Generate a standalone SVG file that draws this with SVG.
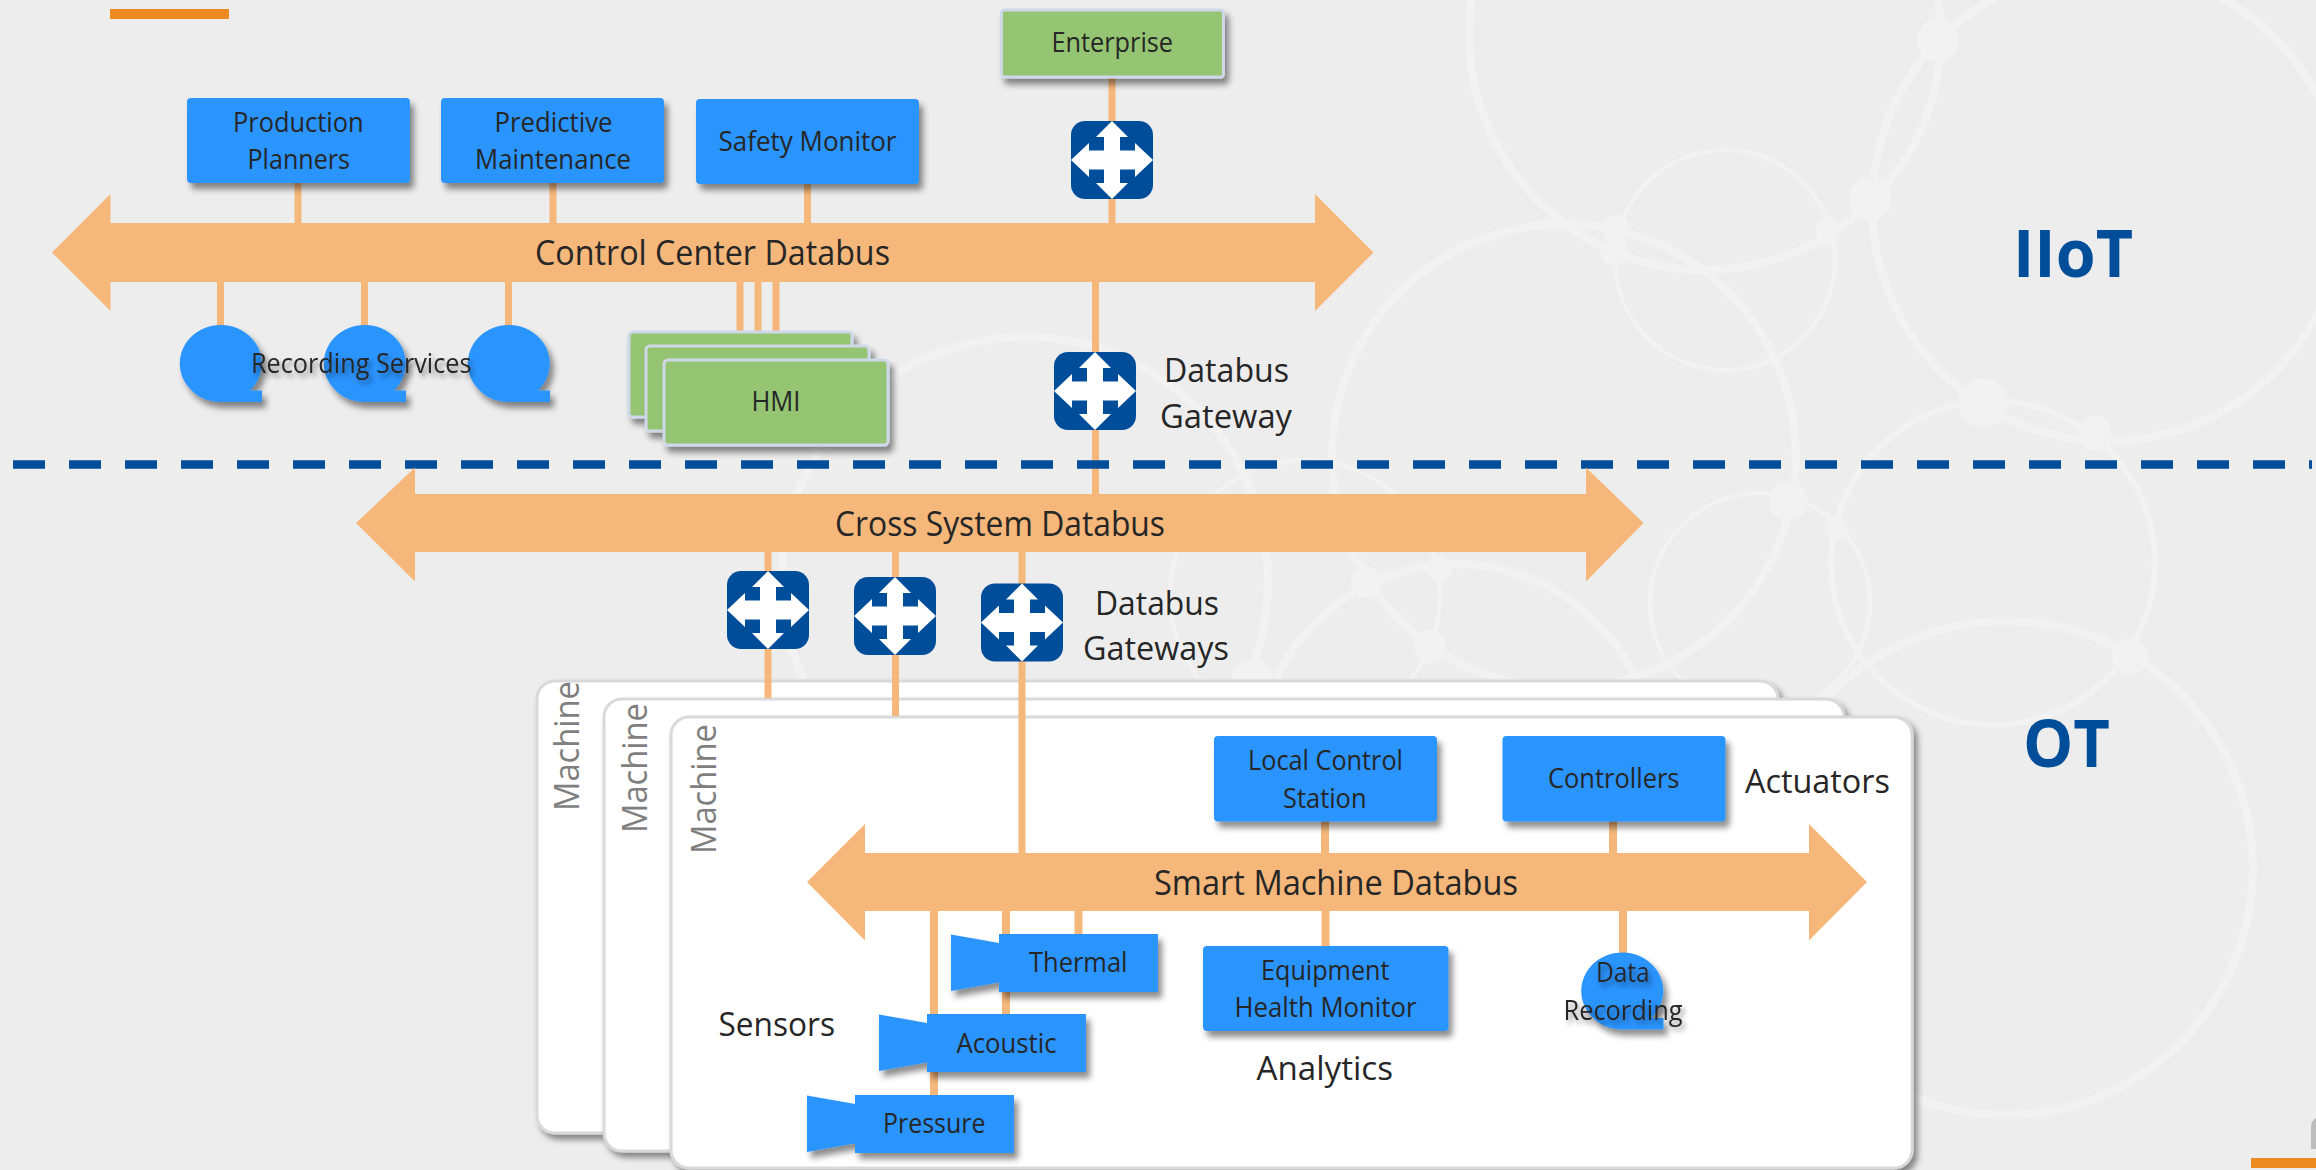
<svg xmlns="http://www.w3.org/2000/svg" xmlns:xlink="http://www.w3.org/1999/xlink" width="2316" height="1170" viewBox="0 0 2316 1170">
<style>
text{font-family:"Open Sans","Noto Sans","Liberation Sans",sans-serif;fill:#262626;font-size:27px}
.lg{font-size:32.5px}
.bl{font-size:34.5px}
.mach{font-size:35px;fill:#7f7f7f}
.hd{font-size:67px;font-weight:700;fill:#004e9a}
.box{fill:#2b94ff;filter:url(#sh)}
.grn{fill:#95c573;stroke:#cfd8e8;stroke-width:3;filter:url(#sh)}
.bus{fill:#f5b77a}
.pan{fill:#fff;stroke:#d9d9d9;stroke-width:3;filter:url(#shp)}
.bg circle{fill:none;stroke:#f2f2f2;stroke-width:8}
.bg .t{stroke-width:4}
.bg ellipse{fill:#f2f2f2}
.con line{stroke:#f5b77a;stroke-width:7}
.ts{filter:url(#tsh)}
</style>
<defs>
<filter id="sh" x="-20%" y="-20%" width="140%" height="140%"><feDropShadow dx="4" dy="6" stdDeviation="3" flood-color="#000" flood-opacity=".45"/></filter>
<filter id="shp" x="-5%" y="-5%" width="110%" height="110%"><feDropShadow dx="4" dy="5" stdDeviation="3" flood-color="#000" flood-opacity=".45"/></filter>
<filter id="tsh" x="-20%" y="-30%" width="140%" height="170%"><feDropShadow dx="3" dy="4" stdDeviation="2.5" flood-color="#000" flood-opacity=".4"/></filter>
<g id="gw">
<rect x="-41" y="-39" width="82" height="78" rx="14" fill="#004e9a"/>
<polygon fill="#fff" points="0,-39 16,-23 8,-23 8,-9.5 23,-9.5 23,-17 41,0 23,17 23,9.5 8,9.5 8,23 16,23 0,39 -16,23 -8,23 -8,9.5 -23,9.5 -23,17 -41,0 -23,-17 -23,-9.5 -8,-9.5 -8,-23 -16,-23"/>
</g>
<path id="tape" d="M0,38.5 A41,38.5 0 1 1 29,27 L41,27 L41,38.5 Z" fill="#2b94ff" filter="url(#sh)"/>
<g id="cam">
<polygon points="-48,0.5 0,9 0,48.5 -48,57" fill="#2b94ff"/>
<rect x="0" y="0" width="159" height="58" fill="#2b94ff"/>
</g>
</defs>

<rect width="2316" height="1170" fill="#ededed"/>

<g class="bg">
<circle cx="1705" cy="34" r="236"/>
<circle cx="2108" cy="205" r="236"/>
<circle class="t" cx="1725" cy="260" r="110"/>
<circle cx="1564" cy="456" r="232"/>
<circle cx="2006" cy="868" r="247"/>
<circle class="t" cx="1993" cy="563" r="162" style="stroke-width:6"/>
<circle class="t" cx="1760" cy="603" r="110"/>
<circle cx="1456" cy="762" r="198"/>
<circle cx="1025" cy="580" r="243"/>
<circle class="t" cx="1305" cy="595" r="135"/>
<ellipse cx="1938" cy="40" rx="21" ry="22"/>
<ellipse cx="1870" cy="199" rx="21" ry="22"/>
<ellipse cx="1617" cy="230" rx="14" ry="15"/>
<ellipse cx="1614" cy="251" rx="13" ry="15"/>
<ellipse cx="1828" cy="231" rx="12" ry="14"/>
<ellipse cx="1983" cy="403" rx="25" ry="25"/>
<ellipse cx="2095" cy="433" rx="16" ry="18"/>
<ellipse cx="1788" cy="501" rx="19" ry="20"/>
<ellipse cx="1836" cy="528" rx="12" ry="12"/>
<ellipse cx="1439" cy="568" rx="13" ry="13"/>
<ellipse cx="1366" cy="582" rx="15" ry="16"/>
<ellipse cx="1430" cy="647" rx="16" ry="17"/>
<ellipse cx="1252" cy="675" rx="20" ry="16"/>
<ellipse cx="2130" cy="657" rx="18" ry="18"/>
</g>

<rect id="accent-top" x="110" y="9" width="119" height="10" fill="#ee8a22"/>
<rect id="accent-bottom" x="2251" y="1158" width="65" height="10" fill="#ee8a22"/>
<path id="corner" d="M2316,1118 Q2311,1120 2311,1128 V1149 H2316 Z" fill="#bdbdbd"/>

<g id="machine-1"><rect class="pan" x="537" y="681" width="1241" height="452" rx="18"/><text class="mach" transform="translate(579,811) rotate(-90)" textLength="130" lengthAdjust="spacingAndGlyphs">Machine</text></g>
<g id="machine-2"><rect class="pan" x="604" y="699" width="1240" height="452" rx="18"/><text class="mach" transform="translate(647,833) rotate(-90)" textLength="130" lengthAdjust="spacingAndGlyphs">Machine</text></g>
<g id="machine-3"><rect class="pan" x="671" y="717" width="1241" height="451" rx="18"/><text class="mach" transform="translate(716,854) rotate(-90)" textLength="130" lengthAdjust="spacingAndGlyphs">Machine</text></g>

<g id="connectors" class="con">
<line x1="298" y1="183" x2="298" y2="224"/>
<line x1="553" y1="183" x2="553" y2="224"/>
<line x1="807.500" y1="184" x2="807.500" y2="224"/>
<line x1="1112" y1="77" x2="1112" y2="224"/>
<line x1="220.500" y1="282" x2="220.500" y2="326"/>
<line x1="364.500" y1="282" x2="364.500" y2="326"/>
<line x1="508.500" y1="282" x2="508.500" y2="326"/>
<line x1="740" y1="282" x2="740" y2="332"/>
<line x1="758" y1="282" x2="758" y2="346"/>
<line x1="776" y1="282" x2="776" y2="360"/>
<line x1="1095.500" y1="282" x2="1095.500" y2="495"/>
<line x1="768" y1="552" x2="768" y2="698"/>
<line x1="895.500" y1="552" x2="895.500" y2="716"/>
<line x1="1022" y1="552" x2="1022" y2="853"/>
<line x1="1325" y1="821" x2="1325" y2="853" style="stroke-width:8"/>
<line x1="1613" y1="821" x2="1613" y2="853" style="stroke-width:8"/>
<line x1="1325.500" y1="911" x2="1325.500" y2="946" style="stroke-width:8"/>
<line x1="1623" y1="911" x2="1623" y2="953" style="stroke-width:8"/>
<line x1="934" y1="911" x2="934" y2="1095" style="stroke-width:8"/>
<line x1="1006" y1="911" x2="1006" y2="1014" style="stroke-width:8"/>
<line x1="1078.500" y1="911" x2="1078.500" y2="934" style="stroke-width:8"/>
</g>

<path id="divider" d="M13,464.500 H2312" stroke="#004e9a" stroke-width="8.500" stroke-dasharray="32 24" fill="none"/>

<g id="bus-control"><polygon class="bus" points="52,252.500 110.500,194 110.500,223 1315,223 1315,194 1373.500,252.500 1315,311 1315,282 110.500,282 110.500,311"/><text class="bl" x="535" y="265" textLength="355" lengthAdjust="spacingAndGlyphs">Control Center Databus</text></g>
<g id="bus-cross"><polygon class="bus" points="356,523 415,467.500 415,494 1586,494 1586,467.500 1643.500,523 1586,581.500 1586,552 415,552 415,581.500"/><text class="bl" x="835" y="535.500" textLength="330" lengthAdjust="spacingAndGlyphs">Cross System Databus</text></g>
<g id="bus-smart"><polygon class="bus" points="807,882 865,824 865,853 1809,853 1809,824 1867,882 1809,940.500 1809,911 865,911 865,940.500"/><text class="bl" x="1154" y="895" textLength="364" lengthAdjust="spacingAndGlyphs">Smart Machine Databus</text></g>

<g id="production-planners"><rect class="box" x="187" y="98" width="223" height="85" rx="4"/><text x="233" y="132" textLength="130.500" lengthAdjust="spacingAndGlyphs">Production</text><text x="247.500" y="169" textLength="102.500" lengthAdjust="spacingAndGlyphs">Planners</text></g>
<g id="predictive-maintenance"><rect class="box" x="441" y="98" width="223" height="85" rx="4"/><text x="494.500" y="132" textLength="118" lengthAdjust="spacingAndGlyphs">Predictive</text><text x="475" y="169" textLength="156" lengthAdjust="spacingAndGlyphs">Maintenance</text></g>
<g id="safety-monitor"><rect class="box" x="696" y="99" width="223" height="85" rx="4"/><text x="718.500" y="150.500" textLength="178" lengthAdjust="spacingAndGlyphs">Safety Monitor</text></g>
<g id="enterprise"><rect class="grn" x="1001.500" y="10" width="222" height="67" rx="3"/><text x="1051.500" y="52" textLength="121.500" lengthAdjust="spacingAndGlyphs">Enterprise</text></g>

<g id="recording-services">
<use xlink:href="#tape" href="#tape" x="221" y="363.500"/>
<use xlink:href="#tape" href="#tape" x="365" y="363.500"/>
<use xlink:href="#tape" href="#tape" x="509" y="363.500"/>
<text class="ts" x="251" y="373" textLength="220.500" lengthAdjust="spacingAndGlyphs">Recording Services</text>
</g>

<g id="hmi">
<rect class="grn" x="629" y="332" width="223" height="85" rx="4"/>
<rect class="grn" x="646" y="346" width="223" height="85" rx="4"/>
<rect class="grn" x="664" y="360" width="224" height="85" rx="4"/>
<text x="751.500" y="411" textLength="49" lengthAdjust="spacingAndGlyphs">HMI</text>
</g>

<g id="gateway-enterprise"><use xlink:href="#gw" href="#gw" x="1112" y="160"/></g>
<g id="gateway-main"><use xlink:href="#gw" href="#gw" x="1095" y="391"/><text class="lg" x="1164" y="382" textLength="125" lengthAdjust="spacingAndGlyphs">Databus</text><text class="lg" x="1160" y="428" textLength="132" lengthAdjust="spacingAndGlyphs">Gateway</text></g>
<g id="gateway-1"><use xlink:href="#gw" href="#gw" x="768" y="610"/></g>
<g id="gateway-2"><use xlink:href="#gw" href="#gw" x="895" y="616"/></g>
<g id="gateway-3"><use xlink:href="#gw" href="#gw" x="1022" y="622.500"/><text class="lg" x="1095" y="615" textLength="124" lengthAdjust="spacingAndGlyphs">Databus</text><text class="lg" x="1083" y="660" textLength="146" lengthAdjust="spacingAndGlyphs">Gateways</text></g>

<g id="local-control-station"><rect class="box" x="1214" y="736" width="223" height="85.500" rx="4"/><text x="1248" y="770" textLength="155" lengthAdjust="spacingAndGlyphs">Local Control</text><text x="1283" y="808" textLength="83.500" lengthAdjust="spacingAndGlyphs">Station</text></g>
<g id="controllers"><rect class="box" x="1502.500" y="736" width="223" height="85.500" rx="4"/><text x="1548" y="788" textLength="131.500" lengthAdjust="spacingAndGlyphs">Controllers</text></g>
<text id="actuators" class="lg" x="1745" y="792.500" textLength="145" lengthAdjust="spacingAndGlyphs">Actuators</text>

<g id="equipment-health-monitor"><rect class="box" x="1203" y="946" width="245.500" height="85" rx="4"/><text x="1261" y="980" textLength="128.500" lengthAdjust="spacingAndGlyphs">Equipment</text><text x="1234.500" y="1017" textLength="182" lengthAdjust="spacingAndGlyphs">Health Monitor</text></g>
<text id="analytics" class="lg" x="1256.500" y="1080" textLength="136.500" lengthAdjust="spacingAndGlyphs">Analytics</text>

<g id="data-recording"><use xlink:href="#tape" href="#tape" x="1622.500" y="991"/><text class="ts" x="1596" y="981.500" textLength="53.500" lengthAdjust="spacingAndGlyphs">Data</text><text class="ts" x="1563.500" y="1020" textLength="119" lengthAdjust="spacingAndGlyphs">Recording</text></g>

<g id="thermal"><use xlink:href="#cam" href="#cam" x="999" y="934" filter="url(#sh)"/><text x="1029" y="971.500" textLength="98.500" lengthAdjust="spacingAndGlyphs">Thermal</text></g>
<g id="acoustic"><use xlink:href="#cam" href="#cam" x="927" y="1014" filter="url(#sh)"/><text x="956.500" y="1053" textLength="100" lengthAdjust="spacingAndGlyphs">Acoustic</text></g>
<g id="pressure"><use xlink:href="#cam" href="#cam" x="855" y="1095" filter="url(#sh)"/><text x="883" y="1133" textLength="102.500" lengthAdjust="spacingAndGlyphs">Pressure</text></g>
<text id="sensors" class="lg" x="718.500" y="1036" textLength="116.500" lengthAdjust="spacingAndGlyphs">Sensors</text>

<text id="iiot" class="hd" x="2013" y="277" textLength="120" lengthAdjust="spacingAndGlyphs">IIoT</text>
<text id="ot" class="hd" x="2023" y="767" textLength="87" lengthAdjust="spacingAndGlyphs">OT</text>
</svg>
